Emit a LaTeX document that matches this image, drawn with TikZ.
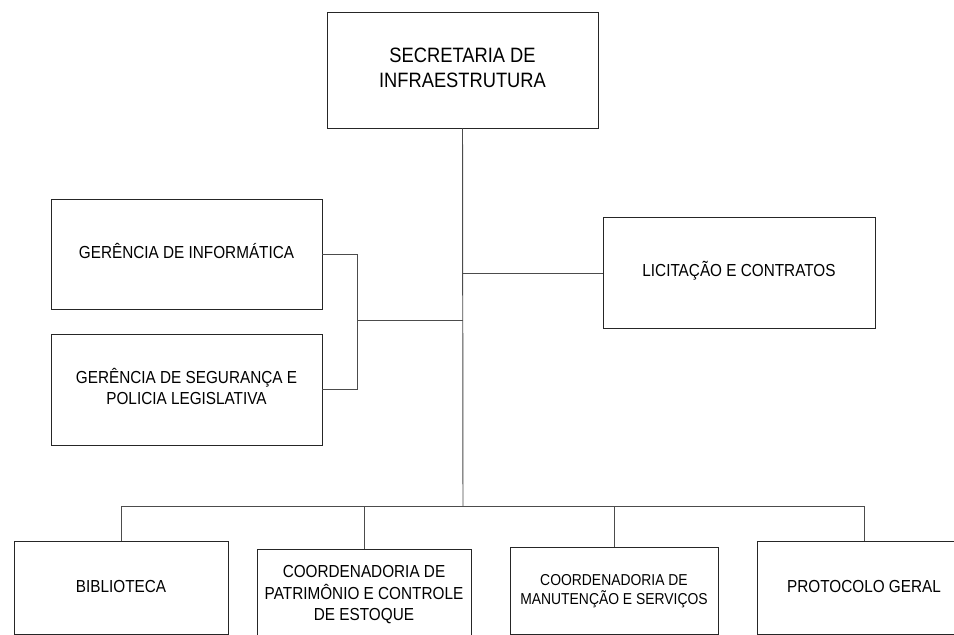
\documentclass[tikz,border=0pt]{standalone}
\usepackage{fontspec}
\setmainfont{Liberation Sans}
\usepackage{graphicx}
\newcommand\lab[3]{\scalebox{0.88}[1]{\fontsize{#1}{#2}\selectfont\begin{tabular}{@{}c@{}}#3\end{tabular}}}
\begin{document}
\begin{tikzpicture}[x=1pt,y=-1pt,
  box/.style={draw=black!85,line width=0.95pt,fill=white,rectangle,inner sep=0pt,anchor=center},
  wire/.style={draw=black!70,line width=0.95pt}]
\path[use as bounding box] (0,0) rectangle (954,635);
\clip (0,0) rectangle (954,635);
\fill[white] (0,0) rectangle (954,635);
% nodes
\node[box,minimum width=271pt,minimum height=116pt] (sec) at (462.5,70) {\lab{20.8}{25}{SECRETARIA DE\\INFRAESTRUTURA}};
\node[box,minimum width=271pt,minimum height=110pt] (info) at (186.5,254) {\lab{17.4}{21}{GERÊNCIA DE INFORMÁTICA}};
\node[box,minimum width=271pt,minimum height=111pt] (seg) at (186.5,389.5) {\lab{17.4}{21}{GERÊNCIA DE SEGURANÇA E\\POLICIA LEGISLATIVA}};
\node[box,minimum width=272pt,minimum height=111pt] (lic) at (739,272.5) {\lab{17.4}{21}{LICITAÇÃO E CONTRATOS}};
\node[box,minimum width=214pt,minimum height=92.5pt] (bib) at (121,588) {\lab{17.4}{21}{BIBLIOTECA}};
\node[box,minimum width=214pt,minimum height=92pt] (pat) at (364,595) {\lab{17.4}{21.5}{COORDENADORIA DE\\PATRIMÔNIO E CONTROLE\\DE ESTOQUE}};
\node[box,minimum width=208pt,minimum height=87.5pt] (man) at (614,591) {\lab{15.8}{19}{COORDENADORIA DE\\MANUTENÇÃO E SERVIÇOS}};
\node[box,minimum width=214pt,minimum height=92.5pt] (pro) at (864,588) {\lab{17.4}{21}{PROTOCOLO GERAL}};
% junction points
\coordinate (tL) at (463,273);
\coordinate (tM) at (463,320);
\coordinate (tB) at (463,506);
\coordinate (gx) at (357,320);
% connectors
\draw[wire] (sec.south) -- (tB);
\draw[wire] (tL) -- (tL -| lic.west);
\draw[wire] (info.east) -- (info.east -| gx) -- (seg.east -| gx) -- (seg.east);
\draw[wire] (gx) -- (tM);
\draw[wire] (bib.north) -- (bib.north |- tB) -- (pro.north |- tB) -- (pro.north);
\draw[wire] (pat.north) -- (pat.north |- tB);
\draw[wire] (man.north) -- (man.north |- tB);
\end{tikzpicture}
\end{document}
